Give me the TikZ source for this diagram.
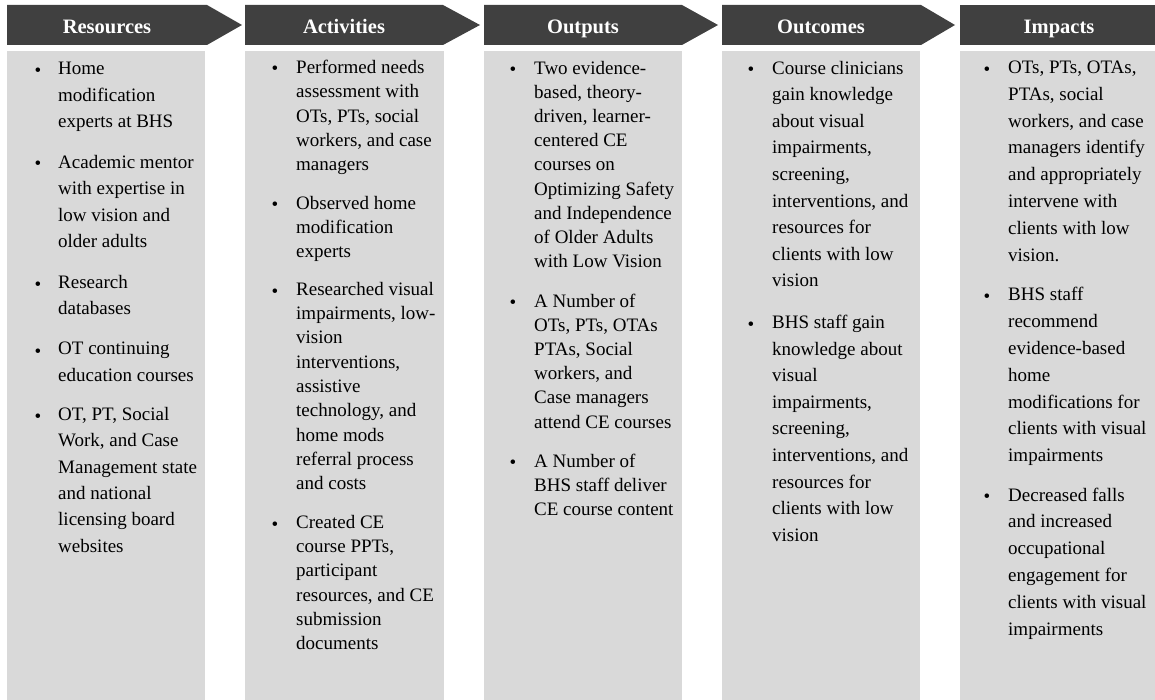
\documentclass[tikz,border=0pt]{standalone}
\usepackage{fontspec}
\setmainfont{Liberation Serif}
\definecolor{hdrgray}{HTML}{404040}
\definecolor{boxgray}{HTML}{D9D9D9}

\begin{document}
\begin{tikzpicture}[x=1bp,y=-1bp,
  hdr/.style={anchor=base,inner sep=0pt,text=white,font=\fontsize{20.5bp}{24bp}\selectfont\bfseries},
  item/.style={anchor=north west,yshift=15bp,align=left,inner sep=0pt,
    font=\fontsize{19bp}{#1bp}\selectfont,execute at begin node=\rule{0pt}{15bp}},
  dot/.style={anchor=base,inner sep=0pt,font=\fontsize{19bp}{22bp}\selectfont}]
\useasboundingbox (0,0) rectangle (1155,700);
% grey columns
\foreach \x/\w in {7/198,245/199,484/198,722/198,960/200}{
  \fill[boxgray] (\x,51) rectangle ++(\w,649);
}
% header arrows
\fill[hdrgray] (7,5) -- (207,5) -- (242,25) -- (207,45) -- (7,45) -- cycle;
\fill[hdrgray] (245,5) -- (443,5) -- (480,25) -- (443,45) -- (245,45) -- cycle;
\fill[hdrgray] (484,5) -- (682,5) -- (718,25) -- (682,45) -- (484,45) -- cycle;
\fill[hdrgray] (722,5) -- (921,5) -- (955,25) -- (921,45) -- (722,45) -- cycle;
\fill[hdrgray] (960,5) rectangle (1160,45);
\node[hdr] (hres) at (107,34) {Resources};
\node[hdr] (hact) at (344,34) {Activities};
\node[hdr] (hout) at (583,34) {Outputs};
\node[hdr] (hocm) at (821,34) {Outcomes};
\node[hdr] (himp) at (1059,34) {Impacts};

% Resources
\foreach \y [count=\i] in {77,170,290,357,422}{
  \node[dot] (rb\i) at (38,\y) {•};
}
\node[item=26.4] (r1) at (58,77) {Home\\modification\\experts at BHS};
\node[item=26.4] (r2) at (58,170) {Academic mentor\\with expertise in\\low vision and\\older adults};
\node[item=26.4] (r3) at (58,290) {Research\\databases};
\node[item=26.4] (r4) at (58,357) {OT continuing\\education courses};
\node[item=26.4] (r5) at (58,422) {OT, PT, Social\\Work, and Case\\Management state\\and national\\licensing board\\websites};

% Activities
\foreach \y [count=\i] in {75,210.7,297,530}{
  \node[dot] (ab\i) at (275,\y) {•};
}
\node[item=24.3] (a1) at (296,75) {Performed needs\\assessment with\\OTs, PTs, social\\workers, and case\\managers};
\node[item=24.3] (a2) at (296,210.7) {Observed home\\modification\\experts};
\node[item=24.3] (a3) at (296,297) {Researched visual\\impairments, low-\\vision\\interventions,\\assistive\\technology, and\\home mods\\referral process\\and costs};
\node[item=24.3] (a4) at (296,530) {Created CE\\course PPTs,\\participant\\resources, and CE\\submission\\documents};

% Outputs
\foreach \y [count=\i] in {75.7,308.5,468.5}{
  \node[dot] (ob\i) at (513,\y) {•};
}
\node[item=24.2] (o1) at (534,75.7) {Two evidence-\\based, theory-\\driven, learner-\\centered CE\\courses on\\Optimizing Safety\\and Independence\\of Older Adults\\with Low Vision};
\node[item=24.2] (o2) at (534,308.5) {A Number of\\OTs, PTs, OTAs\\PTAs, Social\\workers, and\\Case managers\\attend CE courses};
\node[item=24.2] (o3) at (534,468.5) {A Number of\\BHS staff deliver\\CE course content};

% Outcomes
\foreach \y [count=\i] in {75.7,330}{
  \node[dot] (cb\i) at (751,\y) {•};
}
\node[item=26.6] (c1) at (772,75.7) {Course clinicians\\gain knowledge\\about visual\\impairments,\\screening,\\interventions, and\\resources for\\clients with low\\vision};
\node[item=26.6] (c2) at (772,330) {BHS staff gain\\knowledge about\\visual\\impairments,\\screening,\\interventions, and\\resources for\\clients with low\\vision};

% Impacts
\foreach \y [count=\i] in {75.7,302.3,502.5}{
  \node[dot] (ib\i) at (987,\y) {•};
}
\node[item=26.8] (i1) at (1008,75.7) {OTs, PTs, OTAs,\\PTAs, social\\workers, and case\\managers identify\\and appropriately\\intervene with\\clients with low\\vision.};
\node[item=26.8] (i2) at (1008,302.3) {BHS staff\\recommend\\evidence-based\\home\\modifications for\\clients with visual\\impairments};
\node[item=26.8] (i3) at (1008,502.5) {Decreased falls\\and increased\\occupational\\engagement for\\clients with visual\\impairments};
\end{tikzpicture}
\end{document}
